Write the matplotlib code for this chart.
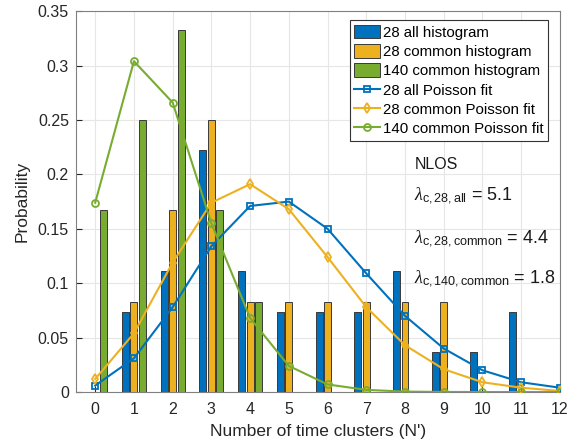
import numpy as np
import matplotlib
matplotlib.use("Agg")
from matplotlib import pyplot as plt

# number of time clusters
clusters = np.arange(0, 13)

# empirical histograms (probability)
hist_28_all = [0, 0.074, 0.111, 0.222, 0.111, 0.074, 0.074, 0.074, 0.111, 0.037, 0.037, 0.074, 0]
hist_28_common = [0, 0.083, 0.167, 0.25, 0.083, 0.083, 0.083, 0.083, 0.083, 0.083, 0, 0, 0]
hist_140_common = [0.167, 0.25, 0.333, 0.167, 0.083, 0, 0, 0, 0, 0, 0, 0, 0]

# Poisson fits
fit_28_all = [0.006, 0.031, 0.078, 0.134, 0.171, 0.175, 0.150, 0.109, 0.070, 0.040, 0.020, 0.009, 0.004]
fit_28_common = [0.012, 0.054, 0.119, 0.174, 0.191, 0.168, 0.124, 0.078, 0.043, 0.021, 0.009, 0.004, 0.001]
fit_140_common = [0.174, 0.304, 0.266, 0.155, 0.068, 0.024, 0.007, 0.002, 0.0004, 0.0001, 0, 0, 0]

lambdas = [("c,28,all", 5.1), ("c,28,common", 4.4), ("c,140,common", 1.8)]

blue = "#0072BD"
orange = "#EDB120"
green = "#77AC30"

plt.rcParams["font.family"] = ["Liberation Sans", "DejaVu Sans"]
plt.rcParams["mathtext.fontset"] = "custom"
plt.rcParams["mathtext.rm"] = "Liberation Sans"
plt.rcParams["mathtext.it"] = "Liberation Serif:italic"

fig = plt.figure(figsize=(5.79, 4.45), dpi=100)
ax = fig.add_axes([0.131, 0.119, 0.836, 0.856])

w = 0.18
off = 0.22
edge = dict(edgecolor="#3a3a3a", linewidth=0.7)
b1 = ax.bar(clusters - off, hist_28_all, w, color=blue, label="28 all histogram", zorder=2, **edge)
b2 = ax.bar(clusters, hist_28_common, w, color=orange, label="28 common histogram", zorder=2, **edge)
b3 = ax.bar(clusters + off, hist_140_common, w, color=green, label="140 common histogram", zorder=2, **edge)

l1, = ax.plot(clusters, fit_28_all, "-s", color=blue, lw=1.5, ms=5, mfc="none", mew=1.3,
              label="28 all Poisson fit", zorder=3)
l2, = ax.plot(clusters, fit_28_common, "-d", color=orange, lw=1.5, ms=5, mfc="none", mew=1.3,
              label="28 common Poisson fit", zorder=3)
l3, = ax.plot(clusters, fit_140_common, "-o", color=green, lw=1.5, ms=5, mfc="none", mew=1.3,
              label="140 common Poisson fit", zorder=3)

ax.set_xlim(-0.5, 12)
ax.set_ylim(0, 0.35)
ax.set_xticks(clusters)
yt = np.arange(0, 0.351, 0.05)
ax.set_yticks(yt)
ax.set_yticklabels(["0"] + ["%g" % round(v, 2) for v in yt[1:]])
ax.tick_params(direction="in", labelsize=11.5, colors="#262626", length=4)
ax.tick_params(axis="x", pad=7)
ax.tick_params(axis="y", pad=5)
ax.grid(True, color="#e6e6e6", linewidth=0.8, zorder=0)
ax.set_axisbelow(True)
for s in ax.spines.values():
    s.set_color("#808080")
    s.set_linewidth(0.8)

ax.set_xlabel("Number of time clusters (N')", fontsize=12.5, color="#262626", labelpad=5)
ax.set_ylabel("Probability", fontsize=12.5, color="#262626", labelpad=6)

leg = ax.legend(handles=[b1, b2, b3, l1, l2, l3], loc="upper right",
                bbox_to_anchor=(0.975, 0.976), fontsize=10.8,
                frameon=True, fancybox=False, edgecolor="#333333", framealpha=1,
                borderpad=0.3, labelspacing=0.3, handlelength=1.7, handleheight=1.0,
                handletextpad=0.2, borderaxespad=0)
leg.get_frame().set_linewidth(0.8)

ax.text(8.25, 0.205, "NLOS", fontsize=11.5, color="#1a1a1a")
ys = [0.177, 0.137, 0.100]
for (sub, val), yy in zip(lambdas, ys):
    ax.text(8.22, yy, r"$\mathit{\lambda}_{\mathrm{" + sub + "}}$ = " + str(val),
            fontsize=13, color="#1a1a1a")

fig.savefig("out.png", dpi=100)
